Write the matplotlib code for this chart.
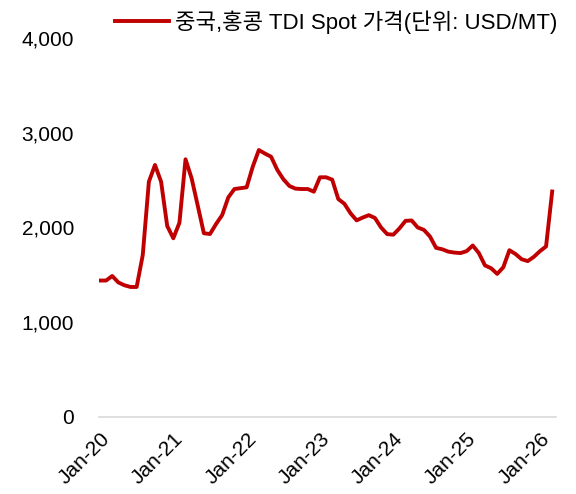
import matplotlib
matplotlib.use("Agg")
import matplotlib.pyplot as plt
import numpy as np

plt.rcParams['font.family'] = ['Liberation Sans', 'Noto Sans CJK KR', 'DejaVu Sans']

# monthly TDI spot price, Jan-20 .. Mar-26 (USD/MT)
tdi_price = [
    1440, 1440, 1488, 1420, 1390, 1372, 1372, 1710, 2483, 2660, 2483, 2016,   # 2020
    1886, 2050, 2720, 2518, 2230, 1939, 1931, 2037, 2132, 2318, 2406, 2415,   # 2021
    2424, 2642, 2818, 2780, 2747, 2610, 2510, 2438, 2410, 2406, 2406, 2378,   # 2022
    2530, 2530, 2505, 2300, 2250, 2150, 2075, 2105, 2130, 2100, 2000, 1930,   # 2023
    1924, 1990, 2070, 2074, 2000, 1975, 1905, 1785, 1770, 1745, 1735, 1730,   # 2024
    1750, 1810, 1730, 1600, 1570, 1510, 1580, 1760, 1720, 1665, 1645, 1690,   # 2025
    1750, 1800, 2380,                                                         # 2026
]
tick_labels = ["Jan-20", "Jan-21", "Jan-22", "Jan-23", "Jan-24", "Jan-25", "Jan-26"]
yticks = [0, 1000, 2000, 3000, 4000]
series_name = "중국,홍콩 TDI Spot 가격(단위: USD/MT)"

x = np.arange(len(tdi_price))

fig = plt.figure(figsize=(5.76, 4.94), dpi=100)
ax = fig.add_axes([0.172, 0.156, 0.793, 0.767])

line, = ax.plot(x, tdi_price, color="#C00000", lw=2.8, solid_joinstyle="round")

ax.set_ylim(0, 4000)
ax.set_xlim(-0.15, 74.6)
ax.set_yticks(yticks)
ax.set_yticklabels([f"{v:,}" for v in yticks], fontsize=15)
ax.set_xticks(np.arange(0, 73, 12))
ax.set_xticklabels(tick_labels, fontsize=15, rotation=45, ha="right",
                   rotation_mode="anchor")
ax.tick_params(axis="y", length=0, pad=18)
ax.tick_params(axis="x", length=0, pad=9)

for s in ["top", "right", "left"]:
    ax.spines[s].set_visible(False)
ax.spines["bottom"].set_color("#D9D9D9")
ax.spines["bottom"].set_linewidth(1.2)

fig.legend([line], [series_name], loc="center", bbox_to_anchor=(0.583, 0.955),
           frameon=False, fontsize=16, handlelength=2.45, handletextpad=0.25)

fig.savefig("out.png", dpi=100)
